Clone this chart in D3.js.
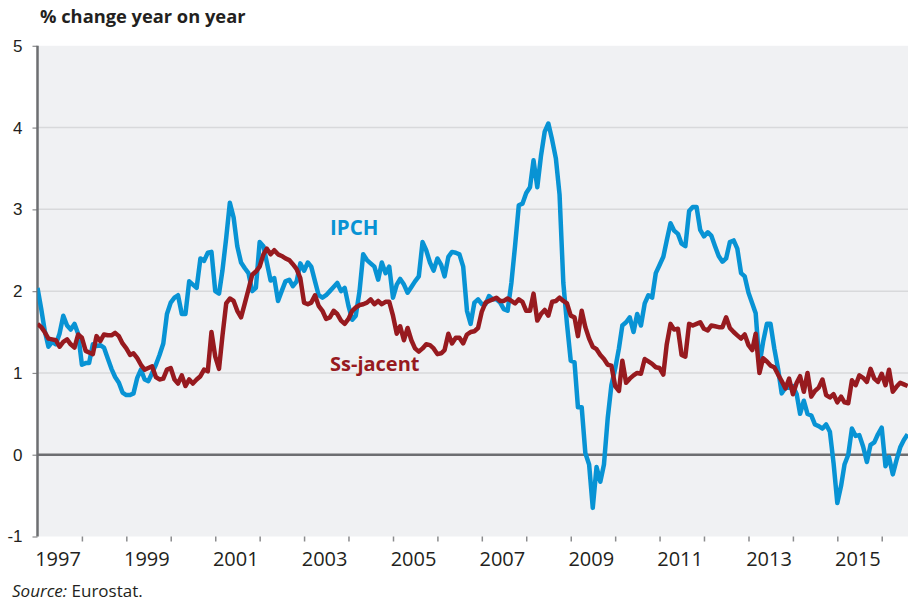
<!DOCTYPE html>
<html>
<head>
<meta charset="utf-8">
<script src="https://cdn.jsdelivr.net/npm/d3@7"></script>
<style>
  body { margin: 0; background: #fff; }
  svg { display: block; font-family: "Open Sans", sans-serif; }
  .yAxis text { font-size: 17px; fill: #231f20; }
  .xLabel { font-size: 20px; fill: #231f20; }
</style>
</head>
<body>
<svg width="908" height="604"></svg>
<script>
// monthly data, Jan 1997 -> Aug 2016
var startYear = 1997;

var ipch = [
  2.04, 1.78, 1.52, 1.32, 1.38, 1.35, 1.48, 1.70, 1.58, 1.53, 1.60, 1.48, // 1997
  1.10, 1.12, 1.12, 1.35, 1.33, 1.34, 1.31, 1.18, 1.05, 0.95, 0.88, 0.76, // 1998
  0.73, 0.73, 0.75, 0.94, 1.04, 0.92, 0.90, 1.00, 1.10, 1.22, 1.36, 1.72, // 1999
  1.86, 1.92, 1.95, 1.72, 1.72, 2.12, 2.08, 2.04, 2.40, 2.37, 2.47, 2.48, // 2000
  2.00, 1.97, 2.25, 2.65, 3.08, 2.90, 2.55, 2.35, 2.28, 2.22, 2.00, 2.04, // 2001
  2.60, 2.55, 2.35, 2.13, 2.16, 1.88, 2.00, 2.12, 2.14, 2.06, 2.12, 2.34, // 2002
  2.25, 2.35, 2.30, 2.12, 1.95, 1.92, 1.95, 2.00, 2.05, 2.10, 2.00, 2.04, // 2003
  1.82, 1.65, 1.70, 2.00, 2.45, 2.38, 2.34, 2.30, 2.14, 2.35, 2.22, 2.30, // 2004
  1.92, 2.08, 2.15, 2.08, 1.98, 2.05, 2.12, 2.18, 2.60, 2.50, 2.35, 2.25, // 2005
  2.40, 2.32, 2.18, 2.42, 2.48, 2.47, 2.45, 2.30, 1.76, 1.60, 1.86, 1.90, // 2006
  1.84, 1.84, 1.94, 1.90, 1.90, 1.86, 1.78, 1.76, 2.10, 2.55, 3.05, 3.07, // 2007
  3.20, 3.27, 3.60, 3.27, 3.65, 3.95, 4.05, 3.85, 3.62, 3.18, 2.10, 1.60, // 2008
  1.15, 1.13, 0.58, 0.58, 0.02, -0.12, -0.65, -0.15, -0.33, -0.12, 0.45, 0.85, // 2009
  1.05, 1.30, 1.58, 1.62, 1.68, 1.50, 1.72, 1.58, 1.85, 1.95, 1.92, 2.22, // 2010
  2.32, 2.42, 2.62, 2.83, 2.74, 2.70, 2.58, 2.55, 2.98, 3.03, 3.03, 2.75, // 2011
  2.67, 2.72, 2.68, 2.55, 2.43, 2.36, 2.40, 2.60, 2.62, 2.52, 2.22, 2.18, // 2012
  1.98, 1.85, 1.73, 1.10, 1.38, 1.60, 1.60, 1.30, 1.05, 0.75, 0.82, 0.82, // 2013
  0.84, 0.74, 0.50, 0.66, 0.50, 0.48, 0.37, 0.35, 0.32, 0.37, 0.28, -0.10, // 2014
  -0.59, -0.38, -0.12, 0.00, 0.32, 0.23, 0.24, 0.10, -0.09, 0.12, 0.15, 0.25, // 2015
  0.33, -0.14, -0.03, -0.24, -0.07, 0.09, 0.18, 0.25 // 2016
];

var sousJacent = [
  1.60, 1.56, 1.50, 1.42, 1.41, 1.40, 1.32, 1.38, 1.41, 1.35, 1.31, 1.47, // 1997
  1.43, 1.27, 1.25, 1.23, 1.45, 1.39, 1.47, 1.46, 1.46, 1.49, 1.45, 1.36, // 1998
  1.30, 1.22, 1.24, 1.18, 1.10, 1.04, 1.06, 1.08, 0.95, 0.92, 0.93, 1.04, // 1999
  1.06, 0.92, 0.87, 0.97, 0.84, 0.92, 0.87, 0.92, 0.96, 1.04, 1.02, 1.50, // 2000
  1.20, 1.05, 1.45, 1.85, 1.91, 1.88, 1.76, 1.68, 1.85, 2.02, 2.20, 2.24, // 2001
  2.30, 2.45, 2.52, 2.45, 2.50, 2.45, 2.43, 2.40, 2.38, 2.33, 2.27, 2.16, // 2002
  1.86, 1.84, 1.86, 1.95, 1.82, 1.76, 1.66, 1.68, 1.76, 1.72, 1.64, 1.60, // 2003
  1.66, 1.76, 1.80, 1.83, 1.84, 1.86, 1.90, 1.84, 1.88, 1.84, 1.87, 1.87, // 2004
  1.70, 1.48, 1.57, 1.40, 1.55, 1.40, 1.30, 1.26, 1.30, 1.35, 1.34, 1.30, // 2005
  1.23, 1.24, 1.28, 1.48, 1.36, 1.43, 1.43, 1.36, 1.47, 1.50, 1.51, 1.55, // 2006
  1.75, 1.86, 1.88, 1.90, 1.92, 1.88, 1.88, 1.91, 1.88, 1.85, 1.90, 1.87, // 2007
  1.76, 1.76, 1.97, 1.64, 1.72, 1.77, 1.70, 1.87, 1.88, 1.92, 1.88, 1.85, // 2008
  1.70, 1.68, 1.45, 1.76, 1.56, 1.42, 1.32, 1.29, 1.22, 1.17, 1.10, 1.09, // 2009
  0.84, 0.78, 1.15, 0.88, 0.93, 0.97, 1.00, 0.99, 1.17, 1.14, 1.11, 1.07, // 2010
  1.06, 0.98, 1.35, 1.60, 1.53, 1.54, 1.22, 1.20, 1.60, 1.58, 1.60, 1.62, // 2011
  1.54, 1.52, 1.58, 1.57, 1.56, 1.56, 1.68, 1.55, 1.50, 1.46, 1.42, 1.47, // 2012
  1.34, 1.28, 1.48, 1.00, 1.18, 1.14, 1.09, 1.07, 0.98, 0.90, 0.81, 0.93, // 2013
  0.74, 0.88, 0.96, 0.77, 1.00, 0.71, 0.78, 0.82, 0.92, 0.73, 0.70, 0.74, // 2014
  0.64, 0.71, 0.64, 0.63, 0.91, 0.85, 0.97, 0.94, 0.89, 1.05, 0.93, 0.89, // 2015
  0.99, 0.85, 1.04, 0.77, 0.83, 0.88, 0.86, 0.84 // 2016
];

var yTicks = [-1, 0, 1, 2, 3, 4, 5];
var yearLabels = [1997, 1999, 2001, 2003, 2005, 2007, 2009, 2011, 2013, 2015];
var seriesNames = ["IPCH", "Ss-jacent"];

var svg = d3.select("svg");

var plotL = 37.5, plotR = 908, plotT = 45.8, plotB = 536.5;

var x = d3.scaleTime()
  .domain([new Date(1997, 0, 1), new Date(2016, 7, 4)])
  .range([plotL, plotR]);

var y = d3.scaleLinear()
  .domain([-1, 5])
  .range([plotB, plotT]);

function monthDate(i) {
  return new Date(startYear, i, 1);
}

// plot background
svg.append("rect")
  .attr("x", plotL)
  .attr("y", plotT)
  .attr("width", plotR - plotL)
  .attr("height", plotB - plotT)
  .style("fill", "#f0f1f3");

// grid lines
svg.append("g")
  .selectAll("line")
  .data(yTicks.filter(function (d) { return d > 0 && d < 5; }))
  .enter().append("line")
  .attr("x1", plotL)
  .attr("x2", plotR)
  .attr("y1", function (d) { return y(d); })
  .attr("y2", function (d) { return y(d); })
  .style("stroke", "#d8d9db")
  .style("stroke-width", 1.5);

// y axis (plain hyphen for negatives, like the original)
var yAxis = svg.append("g")
  .attr("class", "yAxis")
  .attr("transform", "translate(" + plotL + ",0)")
  .call(d3.axisLeft(y).tickValues(yTicks).tickSize(5).tickPadding(10)
    .tickFormat(function (d) { return String(d); }));
yAxis.select(".domain").remove();
yAxis.selectAll("line").style("stroke", "#8a8b8d").style("stroke-width", 1.2);

// x axis ticks at each year start
var yearTicks = d3.range(1998, 2017).map(function (d) { return new Date(d, 0, 1); });
var xAxis = svg.append("g")
  .attr("transform", "translate(0," + plotB + ")")
  .call(d3.axisBottom(x).tickValues(yearTicks).tickSize(5).tickFormat(""));
xAxis.select(".domain").remove();
xAxis.selectAll("line").style("stroke", "#8a8b8d").style("stroke-width", 1.5);

svg.append("g")
  .selectAll("text")
  .data(yearLabels)
  .enter().append("text")
  .attr("class", "xLabel")
  .attr("x", function (d) { return x(new Date(d, 6, 1)) - 1.5; })
  .attr("y", 566)
  .style("text-anchor", "middle")
  .text(function (d) { return d; });

// zero line and left axis line
svg.append("line")
  .attr("x1", plotL).attr("x2", plotR)
  .attr("y1", y(0)).attr("y2", y(0))
  .style("stroke", "#6d6e71")
  .style("stroke-width", 2.5);

svg.append("line")
  .attr("x1", plotL).attr("x2", plotL)
  .attr("y1", plotT).attr("y2", plotB)
  .style("stroke", "#6d6e71")
  .style("stroke-width", 2.5);

// lines
svg.append("clipPath").attr("id", "plotClip")
  .append("rect")
  .attr("x", plotL).attr("y", plotT - 10)
  .attr("width", plotR - plotL).attr("height", plotB - plotT + 10);

var line = d3.line()
  .x(function (d, i) { return x(monthDate(i)); })
  .y(function (d) { return y(d); });

var plot = svg.append("g").attr("clip-path", "url(#plotClip)");

plot.append("path")
  .datum(ipch)
  .attr("d", line)
  .style("fill", "none")
  .style("stroke", "#0893d4")
  .style("stroke-width", 4.5)
  .style("stroke-linejoin", "round");

plot.append("path")
  .datum(sousJacent)
  .attr("d", line)
  .style("fill", "none")
  .style("stroke", "#971a1f")
  .style("stroke-width", 4.5)
  .style("stroke-linejoin", "round");

// series labels
svg.append("text")
  .attr("x", 330)
  .attr("y", 235)
  .style("font-size", "20.5px")
  .style("font-weight", "bold")
  .style("fill", "#0893d4")
  .text(seriesNames[0]);

svg.append("text")
  .attr("x", 330)
  .attr("y", 371)
  .style("font-size", "20px")
  .style("font-weight", "bold")
  .style("fill", "#971a1f")
  .text(seriesNames[1]);

// title and source
svg.append("text")
  .attr("x", 40)
  .attr("y", 23)
  .style("font-size", "18.3px")
  .style("font-weight", "bold")
  .style("fill", "#231f20")
  .text("% change year on year");

var src = svg.append("text")
  .attr("x", 12)
  .attr("y", 597)
  .style("font-size", "17px")
  .style("fill", "#231f20");
src.append("tspan").style("font-style", "italic").text("Source:");
src.append("tspan").text(" Eurostat.");
</script>
</body>
</html>
